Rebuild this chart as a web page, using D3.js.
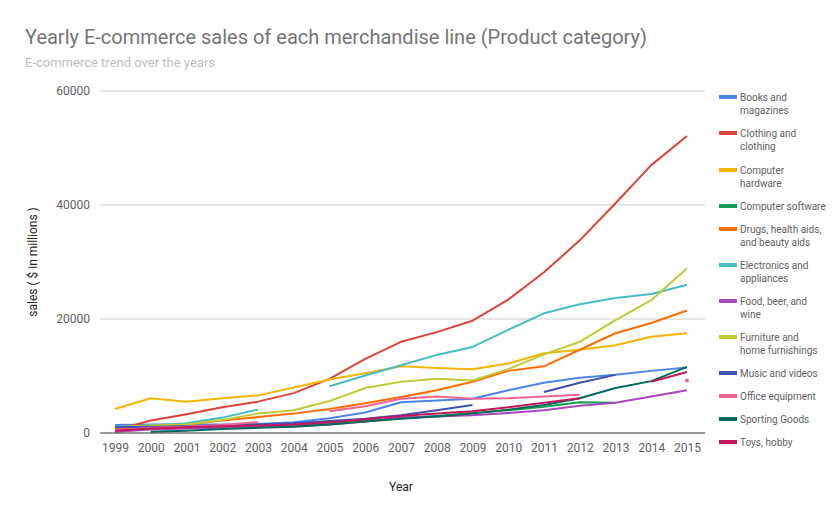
<!DOCTYPE html>
<html><head><meta charset="utf-8">
<script src="https://cdn.jsdelivr.net/npm/d3@7"></script>
<style>body{margin:0;background:#fff;font-family:Roboto,sans-serif}</style>
</head><body><svg id="c" width="839" height="519"></svg>
<script>
const years = [1999,2000,2001,2002,2003,2004,2005,2006,2007,2008,2009,2010,2011,2012,2013,2014,2015];
const yTicks = [0,20000,40000,60000];
const seriesNames = ["Books and magazines","Clothing and clothing","Computer hardware","Computer software","Drugs, health aids, and beauty aids","Electronics and appliances","Food, beer, and wine","Furniture and home furnishings","Music and videos","Office equipment","Sporting Goods","Toys, hobby"];
const legendLines = [["Books and","magazines"],["Clothing and","clothing"],["Computer","hardware"],["Computer software"],["Drugs, health aids,","and beauty aids"],["Electronics and","appliances"],["Food, beer, and","wine"],["Furniture and","home furnishings"],["Music and videos"],["Office equipment"],["Sporting Goods"],["Toys, hobby"]];
const colors = ["#4a86e8","#db4437","#f4b400","#0f9d58","#ff6d00","#46bdc6","#ab47bc","#c0ca33","#3f51b5","#f06292","#00695c","#c2185b"];
const books = [1400,1500,1500,1500,1600,1900,2600,3600,5400,5700,6000,7500,8800,9700,10200,10900,11500];
const clothing = [500,2200,3300,4500,5500,7000,9500,13000,16000,17700,19700,23400,28200,33800,40300,47000,52100];
const hardware = [4200,6100,5500,6100,6600,8000,9400,10500,11700,11400,11200,12200,14000,14600,15400,16900,17500];
const software = [800,900,1000,1100,1200,1300,1700,2200,2600,3000,3500,4000,4600,5400,5300,null,null];
const drugs = [700,1200,1500,2200,2800,3400,4200,5200,6300,7500,9000,10900,11700,14600,17500,19300,21500];
const electronics = [1000,1300,1700,2700,4100,null,8200,10100,11900,13700,15100,18100,21000,22600,23700,24400,26000];
const food = [200,600,800,900,1000,1200,1500,2000,2700,2900,3100,3500,4000,4800,5300,6400,7500];
const furniture = [1000,1300,1500,2300,3400,4000,5600,7900,9000,9500,9200,11200,13800,16000,19800,23300,28900];
const music = [1000,1100,1200,1300,1500,1700,2100,2500,3100,4000,4900,null,7200,8800,10200,null,null];
const office = [500,900,1100,1400,1900,null,3800,4700,6000,6400,6000,6100,6400,6700,null,null,9200];
const sporting = [null,200,400,700,900,1100,1500,2000,2500,2900,3400,4100,4900,6100,7900,9100,11600];
const toys = [400,800,1000,1200,1300,1500,1900,2400,3000,3400,3800,4500,5300,6100,null,9000,10700];
const allSeries = [books,clothing,hardware,software,drugs,electronics,food,furniture,music,office,sporting,toys];

const svg = d3.select("#c");
const x = d3.scalePoint().domain(years).range([115,687]);
const y = d3.scaleLinear().domain([0,60000]).range([433,91]);

svg.append("text").attr("x",25).attr("y",44).attr("font-size",20).attr("fill","#757575").text("Yearly E-commerce sales of each merchandise line (Product category)");
svg.append("text").attr("x",25).attr("y",67).attr("font-size",13).attr("fill","#bdbdbd").text("E-commerce trend over the years");

// grid
svg.append("g").selectAll("line").data(yTicks.filter(d=>d>0)).join("line")
  .attr("x1",100).attr("x2",705).attr("y1",d=>y(d)).attr("y2",d=>y(d)).attr("stroke","#cccccc").attr("stroke-width",1);
const yAxis = d3.axisLeft(y).tickValues(yTicks).tickSize(0).tickPadding(0).tickFormat(d3.format("d"));
const gy = svg.append("g").attr("transform","translate(90,0)").call(yAxis);
gy.select(".domain").remove();
gy.selectAll("text").attr("font-family","Roboto").attr("font-size",12).attr("fill","#616161");
const xAxis = d3.axisBottom(x).tickSize(0).tickPadding(0);
const gx = svg.append("g").attr("transform","translate(0,443)").call(xAxis);
gx.select(".domain").remove();
gx.selectAll("text").attr("font-family","Roboto").attr("font-size",12).attr("fill","#616161");

svg.append("text").attr("x",401).attr("y",491).attr("text-anchor","middle").attr("font-size",12).attr("fill","#222").text("Year");
svg.append("text").attr("transform","translate(37,262) rotate(-90)").attr("text-anchor","middle").attr("font-size",12).attr("fill","#222").text("sales ( $ in millions )");

const line = d3.line().defined(d=>d[1]!=null).x(d=>x(d[0])).y(d=>y(d[1]));
const gl = svg.append("g");
allSeries.forEach((s,i)=>{
  const pts = years.map((yr,j)=>[yr,s[j]]);
  gl.append("path").datum(pts).attr("d",line).attr("fill","none").attr("stroke",colors[i]).attr("stroke-width",2).attr("stroke-linejoin","round");
  pts.forEach((p,j)=>{
    if(p[1]!=null && (j===0||pts[j-1][1]==null) && (j===pts.length-1||pts[j+1][1]==null)){
      gl.append("circle").attr("cx",x(p[0])).attr("cy",y(p[1])).attr("r",2).attr("fill",colors[i]);
    }
  });
});
// baseline
svg.append("line").attr("x1",100).attr("x2",705).attr("y1",y(0)).attr("y2",y(0)).attr("stroke","#333").attr("stroke-width",1);

// legend
const legY = [97,133,170,206,229,265,301,337,373,396,419,442];
const lg = svg.append("g");
seriesNames.forEach((n,i)=>{
  lg.append("rect").attr("x",719).attr("y",legY[i]-2).attr("width",18).attr("height",4).attr("fill",colors[i]);
  const t = lg.append("text").attr("x",740).attr("y",legY[i]+3.5).attr("font-size",10).attr("fill","#616161");
  legendLines[i].forEach((l,k)=>{
    t.append("tspan").attr("x",740).attr("dy",k===0?0:13.5).text(l);
  });
});
</script></body></html>
